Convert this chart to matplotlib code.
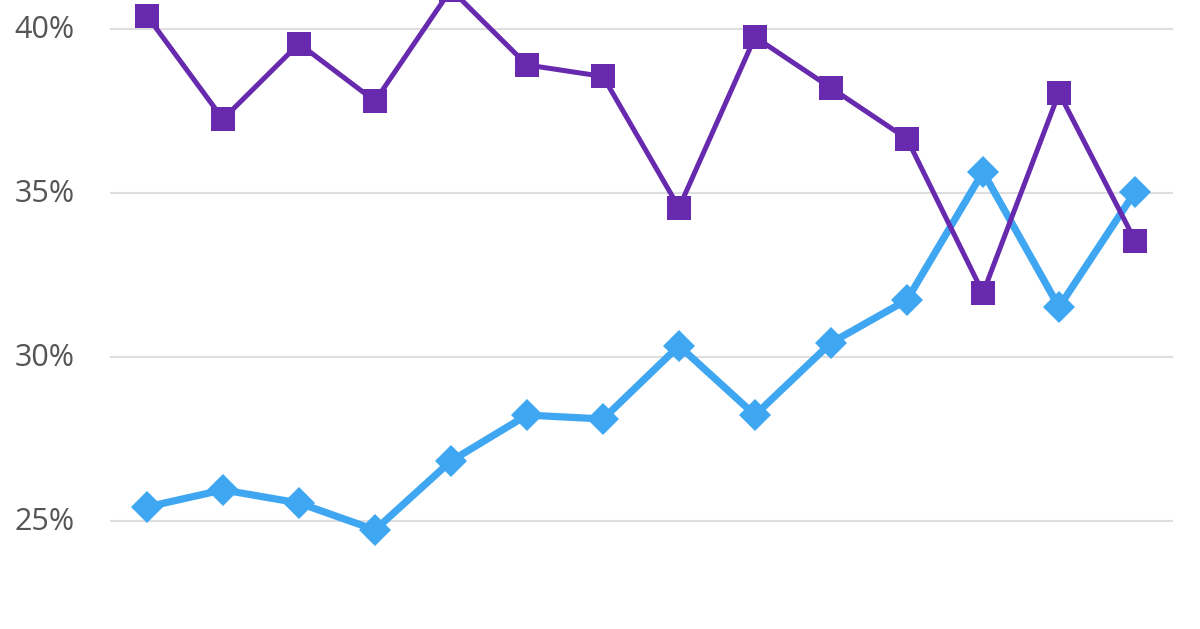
import matplotlib
matplotlib.use('Agg')
import matplotlib.pyplot as plt
import numpy as np

# values (percent)
purple_vals = [40.4, 37.25, 39.55, 37.8, 41.2, 38.9, 38.55, 34.55, 39.75, 38.2, 36.65, 31.95, 38.05, 33.55]
blue_vals = [25.43, 25.95, 25.55, 24.73, 26.83, 28.23, 28.11, 30.34, 28.23, 30.43, 31.74, 35.64, 31.52, 35.03]
ytick_vals = [25, 30, 35, 40]
ytick_labels = ['25%', '30%', '35%', '40%']

x = np.arange(len(purple_vals))

fig = plt.figure(figsize=(12, 6.29), dpi=100)
ax = fig.add_axes([0, 0, 1, 1])

# gridlines
ax.hlines(ytick_vals, -0.49, 13.5, colors='#dedede', linewidth=1.5, zorder=1)

ax.plot(x, blue_vals, color='#3fa6f2', linewidth=5.2, marker='D',
        markersize=16, markeredgewidth=0, zorder=2)
ax.plot(x, purple_vals, color='#6729ad', linewidth=3.6, marker='s',
        markersize=17, markeredgewidth=0, zorder=3)

for v, lab in zip(ytick_vals, ytick_labels):
    ax.text(-0.95, v - 0.04, lab, ha='right', va='center', fontsize=22,
            color='#555555', family='Open Sans')

ax.set_xlim(-1.934, 13.855)
ax.set_ylim(21.71, 40.88)
ax.axis('off')

fig.savefig('out.png', dpi=100)
